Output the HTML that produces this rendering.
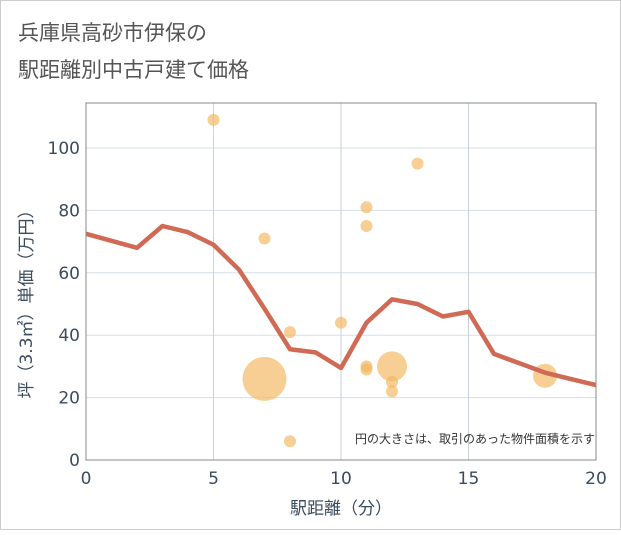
<!DOCTYPE html>
<html><head><meta charset="utf-8"><style>
body{margin:0;background:#fff;}
svg text{font-family:"DejaVu Sans","Noto Sans CJK JP",sans-serif;}
</style></head><body>
<svg width="621" height="530" xmlns="http://www.w3.org/2000/svg">
<rect x="0.5" y="0.5" width="620" height="529" fill="#fff" stroke="#ccc"/>
<text x="18" y="40" font-size="21" fill="#555">兵庫県高砂市伊保の</text>
<text x="18" y="77" font-size="21" fill="#555">駅距離別中古戸建て価格</text>
<g id="plot"></g>
<text x="595" y="443" font-size="12" fill="#333" text-anchor="end">円の大きさは、取引のあった物件面積を示す</text>
<text x="341" y="514" font-size="17" fill="#3b4b5e" text-anchor="middle">駅距離（分）</text>
<text transform="translate(32,300) rotate(-90)" font-size="17" fill="#3b4b5e" text-anchor="middle">坪（3.3㎡）単価（万円）</text>
</svg>
<script>
const xTicks=[0,5,10,15,20];
const yTicks=[0,20,40,60,80,100];
const lineX=[0,2,3,4,5,6,7,8,9,10,11,12,13,14,15,16,17,18,19,20];
const lineY=[72.5,68,75,73,69,61,48.5,35.5,34.5,29.5,44,51.5,50,46,47.5,34,31,28,26,24];
const ptX=[5,7,7,8,8,10,11,11,11,11,12,12,12,13,18];
const ptY=[109,71,26,41,6,44,81,75,30,29,30,25,22,95,27];
const ptR=[6,6,22,6,6,6,6,6,6,6,15,6,6,6,12];
const L=86,R=596,T=103,B=460;
const sx=v=>L+(v-0)/20*(R-L);
const sy=v=>B-v/100*(B-148);
const NS="http://www.w3.org/2000/svg";
const g=document.getElementById('plot');
function mk(t,a){const e=document.createElementNS(NS,t);for(const k in a)e.setAttribute(k,a[k]);g.appendChild(e);return e;}
const bg=mk('rect',{x:L,y:T,width:R-L,height:B-T,fill:'#fff'});


yTicks.forEach(v=>{
 const l=mk('line',{x1:L,x2:R,y1:sy(v),y2:sy(v),stroke:'#d5dfea','stroke-width':1});
 
 
 const t=mk('text',{x:L-6,y:sy(v)+6,'font-size':17,fill:'#3b4b5e','text-anchor':'end'});
 t.textContent=v;
 
 
});
xTicks.forEach(v=>{
 const l=mk('line',{x1:sx(v),x2:sx(v),y1:T,y2:B,stroke:'#c8d2de','stroke-width':1});
 
 
 const t=mk('text',{x:sx(v),y:B+24,'font-size':17,fill:'#3b4b5e','text-anchor':'middle'});
 t.textContent=v;
 
 
});
ptX.forEach((x,i)=>{
 const c=mk('circle',{cx:sx(x),cy:sy(ptY[i]),r:ptR[i],fill:'#f2b55a','fill-opacity':0.65});
 
 
});
const p=mk('polyline',{points:lineX.map((x,i)=>sx(x)+','+sy(lineY[i])).join(' '),fill:'none',stroke:'#d06a55','stroke-width':4.5,'stroke-linejoin':'round'});


const f=mk('rect',{x:L,y:T,width:R-L,height:B-T,fill:'none',stroke:'#888','stroke-width':1});


</script>
</body></html>
